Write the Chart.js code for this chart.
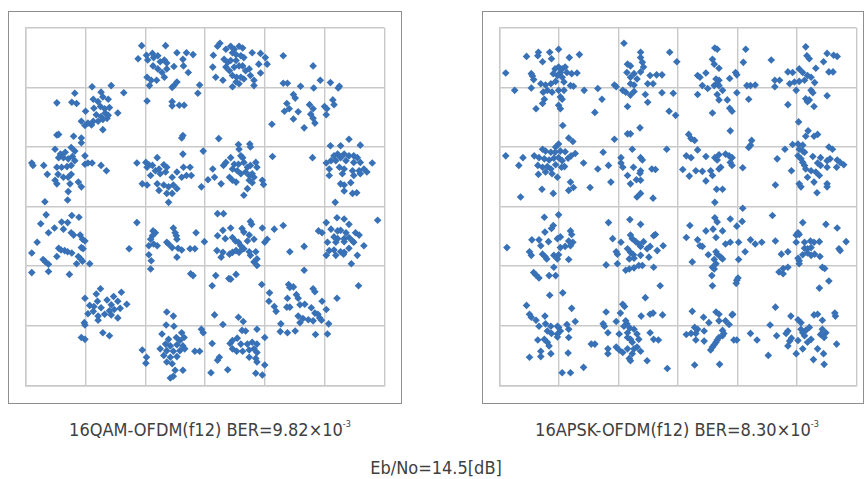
<!DOCTYPE html>
<html>
<head>
<meta charset="utf-8">
<script src="https://cdn.jsdelivr.net/npm/chart.js@4/dist/chart.umd.min.js"></script>
<style>
  html, body { margin: 0; padding: 0; background: #ffffff; }
  body { width: 864px; height: 479px; position: relative; overflow: hidden; }
  .frame { position: absolute; box-sizing: border-box; border: 1px solid #8e8e8e; background: #fff; }
  .plot { position: absolute; }
  .cap { position: absolute; color: #404040; font-family: "DejaVu Sans Condensed", "DejaVu Sans", sans-serif; font-stretch: condensed; font-size: 18px; white-space: nowrap; transform: translateX(-50%); }
  .cap sup { font-size: 9px; vertical-align: 9px; line-height: 0; }
</style>
</head>
<body>
<div class="frame" style="left:8px;top:11px;width:394px;height:393px;"></div>
<div class="frame" style="left:482px;top:11px;width:382px;height:393px;"></div>
<div class="plot" style="left:22px;top:24px;width:366px;height:365px;"><canvas id="left"></canvas></div>
<div class="plot" style="left:496px;top:24px;width:364px;height:365px;"><canvas id="right"></canvas></div>
<div class="cap" id="capL" style="left:210px;top:419px;"></div>
<div class="cap" id="capR" style="left:677px;top:419px;"></div>
<div class="cap" id="capB" style="left:436px;top:457px;"></div>
<script>
// ---- data ----
const axisTicks = [-3, -2, -1, 0, 1, 2, 3];
const captionLeft = ["16QAM-OFDM(f12) BER=9.82×10", "-3"];
const captionRight = ["16APSK-OFDM(f12) BER=8.30×10", "-3"];
const captionBottom = "Eb/No=14.5[dB]";

// left constellation (I, Q)
const leftPoints = [
[-1.06,2.70],[-0.66,2.70],[-1.12,2.48],[-0.98,2.54],[-0.88,2.57],[-0.96,2.46],[-0.86,2.50],[-0.79,2.53],[-0.75,2.43],[-0.68,2.46],[-0.64,2.41],[-0.87,2.36],[-0.79,2.31],[-0.72,2.25],[-0.64,2.31],[-0.47,2.58],[-0.37,2.47],[-0.31,2.58],[-0.20,2.55],[-0.52,2.35],[-0.36,2.36],[-0.28,2.25],[-0.97,2.17],[-0.90,2.12],[-0.81,2.12],[-0.93,2.03],[-0.68,2.17],[-0.52,2.03],[-0.47,2.09],[-0.55,2.00],[-0.09,2.04],[-0.12,1.90],[-0.97,1.77],[-0.55,1.76],[-0.55,1.69],[-0.43,1.70],[-0.35,1.70],[-0.37,1.19],[-0.39,1.15],
[-1.89,2.01],[-1.57,2.03],[-1.36,1.91],[-2.18,1.90],[-1.74,1.92],[-2.48,1.74],[-2.23,1.75],[-2.15,1.73],[-1.87,1.80],[-1.79,1.76],[-1.71,1.84],[-1.62,1.80],[-2.00,1.60],[-1.86,1.65],[-1.75,1.68],[-1.68,1.64],[-1.60,1.66],[-1.46,1.57],[-1.82,1.54],[-1.74,1.51],[-1.67,1.57],[-1.62,1.53],[-2.07,1.43],[-1.96,1.40],[-1.87,1.43],[-1.79,1.43],[-1.71,1.46],[-1.64,1.48],[-1.71,1.29],[-2.01,1.36],[-1.90,1.37],
[-2.48,1.20],[-2.45,1.21],[-2.20,1.18],[-2.07,1.15],[-2.07,1.07],[-2.51,0.96],[-2.42,0.88],[-2.34,0.91],[-2.24,0.99],[-2.18,0.93],[-2.45,0.82],[-2.37,0.82],[-2.29,0.80],[-2.22,0.84],[-2.18,0.77],[-2.01,0.85],[-2.90,0.73],[-2.88,0.69],[-2.70,0.69],[-2.48,0.66],[-2.40,0.66],[-2.31,0.67],[-2.24,0.69],[-2.01,0.71],[-1.96,0.73],[-1.89,0.73],[-1.74,0.69],[-1.65,0.60],[-2.64,0.54],[-2.46,0.54],[-2.37,0.49],[-2.29,0.49],[-2.24,0.54],[-2.51,0.44],[-2.48,0.38],[-2.26,0.38],[-2.12,0.41],[-2.07,0.33],[-2.29,0.25],[-2.30,0.11],[-2.68,0.08],
[-1.14,0.73],[-0.99,0.74],[-0.94,0.70],[-0.97,0.66],[-0.88,0.69],[-0.80,0.82],[-0.83,0.60],[-0.77,0.63],[-0.69,0.70],[-0.64,0.66],[-0.66,0.58],[-0.91,0.52],[-0.75,0.55],[-0.55,0.49],[-0.47,0.58],[-0.36,0.66],[-0.25,0.66],[-0.39,0.49],[-0.31,0.52],[-0.23,0.52],[-1.05,0.38],[-0.97,0.36],[-0.80,0.38],[-0.69,0.36],[-0.61,0.33],[-0.53,0.36],[-0.47,0.30],[-0.77,0.27],[-0.64,0.22],[-0.55,0.22],[-0.37,0.88],[-0.61,0.07],[-0.03,0.93],[-0.06,0.33],
[0.25,2.74],[0.21,2.69],[0.14,2.54],[0.35,2.64],[0.43,2.69],[0.49,2.64],[0.57,2.69],[0.63,2.66],[0.46,2.58],[0.52,2.55],[0.60,2.53],[0.65,2.50],[0.79,2.58],[0.93,2.57],[1.01,2.50],[0.32,2.47],[0.38,2.42],[0.43,2.45],[0.52,2.45],[0.35,2.34],[0.41,2.28],[0.49,2.34],[0.57,2.36],[0.63,2.36],[0.68,2.28],[0.74,2.31],[0.90,2.39],[1.04,2.39],[0.13,2.34],[0.18,2.17],[0.30,2.12],[0.46,2.20],[0.53,2.17],[0.60,2.17],[0.65,2.14],[0.76,2.20],[0.82,2.12],[0.93,2.24],[0.52,2.09],[0.46,2.01],[0.57,2.06],[0.82,2.03],[1.31,2.53],[1.81,2.36],
[1.31,2.07],[1.38,2.07],[1.60,2.02],[1.82,1.99],[1.93,2.12],[2.10,2.08],[2.25,2.02],[2.23,1.99],[1.48,1.88],[1.51,1.82],[1.75,1.71],[1.81,1.64],[1.37,1.73],[1.33,1.60],[1.41,1.64],[1.56,1.59],[1.48,1.47],[1.77,1.55],[1.81,1.48],[2.00,1.68],[2.04,1.64],[2.14,1.79],[2.16,1.71],[2.03,1.54],[1.84,1.40],[1.66,1.32],[1.12,1.38],
[0.23,1.14],[0.56,1.04],[0.75,1.05],[0.76,1.00],[0.57,0.96],[0.60,0.85],[0.63,0.82],[0.43,0.82],[0.35,0.74],[0.31,0.69],[0.49,0.71],[0.56,0.71],[0.65,0.74],[0.71,0.66],[0.76,0.69],[0.85,0.74],[0.87,0.66],[0.13,0.63],[0.46,0.63],[0.54,0.60],[0.60,0.55],[0.68,0.58],[0.74,0.52],[0.79,0.55],[0.82,0.49],[0.74,0.44],[0.79,0.40],[0.05,0.45],[0.16,0.49],[0.27,0.38],[0.41,0.49],[0.46,0.44],[0.52,0.41],[0.96,0.44],[0.98,0.37],[0.71,0.30],[0.65,0.19],[1.13,0.84],
[2.41,1.13],[2.10,1.02],[2.27,1.02],[2.60,1.03],[1.80,0.82],[2.16,0.85],[2.22,0.88],[2.27,0.82],[2.33,0.88],[2.41,0.85],[2.49,0.85],[2.55,0.82],[2.11,0.77],[2.19,0.77],[2.36,0.77],[2.03,0.73],[2.49,0.74],[2.60,0.74],[2.80,0.73],[2.08,0.63],[2.25,0.66],[2.33,0.63],[2.47,0.60],[2.58,0.60],[2.66,0.63],[2.71,0.58],[2.08,0.52],[2.30,0.55],[2.49,0.52],[2.60,0.55],[2.27,0.38],[2.33,0.36],[2.44,0.40],[2.33,0.26],[2.47,0.22],[2.54,0.23],[2.18,0.07],
[-2.66,-0.14],[-2.23,-0.15],[-2.11,-0.18],[-2.75,-0.29],[-2.52,-0.36],[-2.40,-0.26],[-2.30,-0.27],[-2.37,-0.38],[-2.62,-0.44],[-2.24,-0.44],[-2.20,-0.48],[-2.09,-0.48],[-2.05,-0.55],[-2.01,-0.58],[-2.81,-0.60],[-2.45,-0.70],[-2.41,-0.73],[-2.35,-0.74],[-2.30,-0.76],[-2.23,-0.78],[-2.07,-0.69],[-2.04,-0.71],[-2.90,-0.78],[-2.48,-0.84],[-2.12,-0.84],[-2.08,-0.88],[-2.05,-0.92],[-2.15,-0.96],[-2.71,-0.89],[-2.67,-0.93],[-2.62,-0.97],[-1.93,-0.96],[-2.90,-1.11],[-2.62,-1.09],[-2.27,-1.14],
[-1.14,-0.27],[-0.87,-0.41],[-0.83,-0.44],[-0.88,-0.49],[-0.91,-0.55],[-0.94,-0.66],[-0.86,-0.63],[-0.80,-0.66],[-0.64,-0.60],[-0.61,-0.63],[-0.53,-0.36],[-0.50,-0.44],[-0.48,-0.49],[-0.47,-0.55],[-0.55,-0.69],[-0.45,-0.70],[-0.39,-0.73],[-0.47,-0.85],[-0.25,-0.71],[-0.17,-0.71],[-0.15,-0.44],[-0.01,-0.59],[-0.94,-0.81],[-0.90,-0.91],[-0.91,-1.05],[-1.27,-0.71],[-0.24,-1.13],[-0.20,-1.16],
[-1.75,-1.38],[-1.40,-1.44],[-1.82,-1.47],[-2.01,-1.54],[-1.53,-1.51],[-1.80,-1.59],[-1.64,-1.57],[-1.46,-1.59],[-1.31,-1.64],[-1.93,-1.66],[-1.86,-1.68],[-1.74,-1.70],[-1.57,-1.65],[-1.52,-1.73],[-1.60,-1.75],[-1.42,-1.71],[-1.87,-1.76],[-1.96,-1.80],[-1.79,-1.84],[-1.68,-1.81],[-1.57,-1.82],[-1.46,-1.87],[-1.79,-1.91],[-2.02,-1.95],[-2.01,-1.99],[-1.71,-2.12],[-1.60,-2.17],[-2.07,-2.20],[-2.01,-2.23],
[-0.64,-1.77],[-0.53,-1.84],[-0.65,-1.99],[-0.52,-2.01],[-0.39,-2.12],[-0.72,-2.14],[-0.61,-2.23],[-0.48,-2.20],[-0.42,-2.25],[-0.35,-2.20],[-0.66,-2.31],[-0.58,-2.34],[-0.47,-2.32],[-0.37,-2.34],[-0.06,-2.06],[-0.03,-2.12],[-0.75,-2.39],[-0.64,-2.42],[-0.53,-2.43],[-0.42,-2.42],[-0.34,-2.39],[-1.05,-2.41],[-0.98,-2.53],[-0.69,-2.50],[-0.58,-2.53],[-0.47,-2.52],[-0.64,-2.61],[-0.55,-2.64],[-0.99,-2.63],[-0.17,-2.43],[-0.09,-2.43],[-0.50,-2.75],[-0.37,-2.75],[-0.58,-2.88],[-0.53,-2.85],
[0.21,-0.12],[0.31,-0.12],[0.76,-0.25],[0.78,-0.30],[0.30,-0.40],[0.43,-0.36],[0.62,-0.37],[0.65,-0.43],[0.74,-0.48],[0.96,-0.36],[1.16,-0.38],[1.31,-0.32],[0.21,-0.49],[0.34,-0.54],[0.46,-0.52],[0.51,-0.58],[0.56,-0.60],[0.60,-0.66],[0.65,-0.71],[0.71,-0.58],[0.82,-0.55],[1.04,-0.55],[1.00,-0.60],[0.20,-0.74],[0.30,-0.77],[0.41,-0.80],[0.46,-0.77],[0.52,-0.74],[0.57,-0.77],[0.63,-0.71],[0.74,-0.76],[0.76,-0.82],[0.85,-0.76],[0.87,-0.88],[0.82,-0.93],[0.87,-0.99],[0.27,-0.85],[1.42,-0.76],[1.66,-0.67],[0.52,-1.14],[0.43,-1.22],[0.40,-1.21],[0.18,-1.16],[0.12,-1.33],[0.95,-1.31],
[1.66,-1.07],[1.40,-1.31],[1.42,-1.36],[1.48,-1.35],[1.08,-1.45],[1.53,-1.48],[1.81,-1.38],[1.84,-1.43],[1.38,-1.54],[1.56,-1.54],[1.16,-1.68],[1.37,-1.69],[1.42,-1.69],[1.59,-1.65],[1.67,-1.64],[1.96,-1.59],[2.03,-1.73],[1.07,-1.59],[1.19,-1.76],[1.78,-1.70],[1.84,-1.79],[1.89,-1.81],[1.92,-1.87],[1.56,-1.84],[1.64,-1.88],[1.73,-1.90],[1.81,-1.92],[1.95,-1.91],[2.07,-1.97],[1.27,-1.97],[1.59,-1.95],[1.26,-2.10],[1.38,-2.12],[1.51,-2.09],[1.85,-2.15],[2.05,-2.14],[2.21,-1.54],[2.57,-1.33],
[2.21,-0.19],[2.33,-0.21],[2.03,-0.27],[2.41,-0.30],[1.90,-0.41],[1.96,-0.44],[2.11,-0.38],[2.22,-0.41],[2.27,-0.40],[2.36,-0.44],[2.52,-0.44],[2.58,-0.48],[2.16,-0.51],[2.22,-0.54],[2.33,-0.54],[2.41,-0.52],[2.47,-0.58],[2.05,-0.60],[2.19,-0.60],[2.33,-0.59],[2.49,-0.60],[2.66,-0.66],[2.08,-0.74],[2.16,-0.73],[2.27,-0.76],[2.33,-0.77],[2.41,-0.70],[2.03,-0.82],[2.19,-0.82],[2.32,-0.80],[2.55,-0.82],[2.45,-0.96],[2.89,-0.23],
[0.16,-1.82],[0.56,-1.86],[0.64,-1.93],[0.30,-1.98],[0.62,-2.08],[0.68,-2.09],[0.87,-2.06],[1.00,-2.20],[0.46,-2.25],[0.54,-2.21],[0.12,-2.30],[0.42,-2.30],[0.60,-2.31],[0.71,-2.31],[0.79,-2.28],[0.87,-2.31],[0.46,-2.39],[0.53,-2.43],[0.63,-2.43],[0.74,-2.41],[0.82,-2.39],[0.87,-2.45],[0.24,-2.53],[0.21,-2.58],[0.74,-2.53],[0.85,-2.55],[0.87,-2.61],[1.00,-2.66],[0.10,-2.79],[0.38,-2.74],[0.85,-2.80],[0.96,-2.83]
];

// right constellation (I, Q)
const rightPoints = [
[-2.01,2.64],[-2.35,2.59],[-2.16,2.59],[-2.55,2.52],[-2.36,2.53],[-2.13,2.48],[-1.83,2.50],[-1.66,2.55],[-2.28,2.43],[-2.90,2.24],[-2.47,2.23],[-2.45,2.19],[-2.07,2.31],[-2.01,2.34],[-1.95,2.31],[-1.90,2.34],[-1.98,2.25],[-1.87,2.25],[-1.79,2.23],[-1.70,2.24],[-2.10,2.23],[-2.03,2.20],[-1.95,2.17],[-2.43,2.13],[-2.31,2.06],[-2.23,2.04],[-2.14,2.06],[-2.06,2.10],[-1.92,2.09],[-1.81,2.03],[-1.76,2.02],[-2.47,1.99],[-2.75,1.95],[-2.27,1.92],[-2.20,1.95],[-2.12,1.92],[-2.01,1.95],[-1.92,1.95],[-1.98,1.84],[-1.95,1.80],[-2.25,1.80],[-2.28,1.73],[-2.39,1.64],[-2.01,1.70],[-1.98,1.64],[-1.58,1.95],
[-0.91,2.74],[-0.63,2.59],[-0.14,2.59],[-0.63,2.50],[-0.85,2.39],[-0.60,2.42],[-0.80,2.36],[-0.02,2.43],[-0.86,2.25],[-0.74,2.23],[-0.63,2.26],[-0.58,2.34],[-0.47,2.20],[-0.36,2.21],[-0.27,2.21],[-0.80,2.17],[-0.69,2.14],[-0.80,2.06],[-0.74,2.04],[-0.51,2.06],[-0.42,2.06],[-1.07,2.04],[-1.04,2.01],[-0.93,1.95],[-0.88,1.92],[-0.74,1.93],[-0.80,1.87],[-0.55,1.88],[-0.51,1.75],[-1.35,1.98],[-1.28,1.80],[-0.85,1.68],[-1.40,1.58],[-0.27,1.91],[-0.08,1.90],[-0.15,1.60],[-0.04,1.53],
[-1.94,1.36],[-1.84,1.15],[-1.77,1.09],[-2.01,1.05],[-2.06,1.00],[-2.28,0.96],[-2.23,0.93],[-2.14,0.91],[-2.07,0.91],[-1.98,0.93],[-1.90,0.92],[-1.73,0.89],[-2.90,0.85],[-2.61,0.82],[-2.42,0.85],[-2.34,0.82],[-2.25,0.80],[-2.17,0.78],[-2.09,0.81],[-2.01,0.82],[-1.95,0.77],[-1.85,0.81],[-1.80,0.85],[-2.68,0.69],[-2.36,0.69],[-2.28,0.66],[-2.20,0.67],[-2.14,0.63],[-2.06,0.70],[-1.96,0.66],[-1.91,0.67],[-1.59,0.73],[-2.35,0.54],[-2.23,0.58],[-2.12,0.55],[-2.03,0.49],[-1.81,0.41],[-1.84,0.27],[-1.76,0.32],[-2.29,0.29],[-2.10,0.22],[-2.65,0.16],[-1.48,0.32],
[-0.64,1.32],[-0.85,1.22],[-0.80,1.22],[-1.07,1.13],[-0.77,0.96],[-0.19,0.96],[-1.26,0.91],[-0.96,0.82],[-0.63,0.82],[-0.60,0.78],[-1.17,0.69],[-0.96,0.73],[-0.93,0.66],[-1.35,0.63],[-0.75,0.66],[-0.63,0.60],[-0.44,0.63],[-0.38,0.62],[-0.64,0.56],[-0.85,0.52],[-0.70,0.45],[-0.63,0.44],[-1.13,0.41],[-0.80,0.38],[-0.63,0.22],[-0.69,0.16],[-0.42,0.14],
[0.62,2.66],[0.66,2.64],[1.14,2.64],[0.58,2.47],[0.61,2.39],[1.10,2.42],[0.69,2.32],[0.33,2.20],[0.37,2.17],[0.47,2.24],[0.97,2.25],[0.99,2.21],[0.64,2.14],[0.69,2.12],[0.87,2.15],[0.66,2.06],[0.61,2.03],[0.41,2.03],[0.50,1.98],[0.69,2.03],[0.75,1.95],[1.16,2.03],[1.22,2.03],[1.30,2.04],[0.33,1.88],[0.66,1.88],[0.69,1.79],[0.83,1.79],[0.99,1.91],[1.19,1.80],[0.87,1.65],[0.91,1.60],[0.58,1.57],
[2.15,2.68],[1.57,2.46],[2.17,2.53],[2.21,2.48],[2.51,2.57],[2.62,2.54],[2.68,2.52],[2.45,2.43],[1.85,2.26],[1.93,2.25],[2.04,2.31],[2.10,2.25],[2.18,2.20],[2.24,2.17],[2.32,2.32],[2.54,2.26],[2.61,2.26],[1.63,2.12],[1.71,2.12],[1.88,2.06],[1.96,2.09],[2.04,2.10],[2.13,2.12],[2.30,2.08],[1.63,2.01],[1.99,1.95],[2.24,1.95],[2.27,1.91],[2.15,1.81],[2.21,1.79],[2.18,1.76],[2.51,1.86],[2.29,1.68],[1.85,1.71],
[0.18,1.21],[0.22,1.14],[0.28,1.11],[0.88,1.27],[1.24,1.11],[1.22,1.03],[1.19,0.99],[0.33,0.95],[0.14,0.85],[0.22,0.82],[0.47,0.84],[0.62,0.82],[0.69,0.87],[0.80,0.88],[0.86,0.85],[0.91,0.82],[0.66,0.78],[0.88,0.74],[0.91,0.69],[0.08,0.62],[0.30,0.60],[0.41,0.59],[0.55,0.60],[0.69,0.63],[0.72,0.66],[0.58,0.52],[0.19,0.51],[0.47,0.43],[1.09,0.65],[0.65,0.29],[0.75,0.29],[0.62,0.07],[1.09,-0.03],
[2.03,1.42],[2.19,1.27],[2.15,1.18],[2.29,1.18],[2.35,1.21],[1.93,1.04],[2.02,1.05],[2.10,1.03],[1.80,0.96],[2.04,0.96],[2.10,0.93],[2.13,0.91],[2.54,1.00],[2.60,0.96],[1.67,0.80],[2.02,0.85],[2.07,0.80],[2.27,0.84],[2.40,0.82],[2.51,0.77],[2.56,0.80],[2.68,0.78],[2.73,0.74],[2.79,0.70],[2.10,0.74],[2.13,0.69],[2.15,0.63],[2.35,0.73],[2.40,0.69],[2.51,0.66],[2.67,0.66],[1.91,0.60],[2.24,0.60],[2.32,0.58],[2.38,0.52],[2.18,0.49],[2.29,0.41],[2.51,0.38],[2.51,0.33],[2.04,0.38],[2.07,0.33],[1.64,0.36],[2.34,0.23],
[-2.01,-0.14],[-2.25,-0.18],[-2.10,-0.32],[-2.13,-0.37],[-2.24,-0.43],[-1.81,-0.41],[-1.79,-0.47],[-2.46,-0.56],[-2.34,-0.56],[-2.18,-0.59],[-2.03,-0.54],[-1.98,-0.51],[-1.84,-0.58],[-1.77,-0.60],[-2.31,-0.66],[-1.98,-0.69],[-1.90,-0.67],[-1.81,-0.66],[-2.88,-0.69],[-2.50,-0.76],[-2.47,-0.82],[-2.28,-0.80],[-2.24,-0.84],[-2.21,-0.88],[-2.09,-0.82],[-2.01,-0.81],[-2.03,-0.88],[-1.84,-0.89],[-2.09,-1.02],[-2.43,-1.11],[-2.39,-1.15],[-2.34,-1.20],[-2.17,-1.16],[-2.06,-1.16],
[-0.81,-0.22],[-0.63,-0.30],[-1.17,-0.27],[-1.10,-0.54],[-0.80,-0.48],[-0.77,-0.54],[-0.38,-0.47],[-0.41,-0.49],[-0.96,-0.60],[-0.71,-0.59],[-0.66,-0.63],[-0.58,-0.59],[-0.63,-0.67],[-0.52,-0.71],[-0.47,-0.67],[-0.25,-0.66],[-0.35,-0.74],[-0.85,-0.71],[-1.04,-0.76],[-1.02,-0.80],[-0.80,-0.77],[-0.75,-0.81],[-0.82,-0.88],[-0.74,-0.87],[-0.63,-0.82],[-0.49,-0.85],[-1.21,-0.98],[-1.02,-0.96],[-0.88,-1.07],[-0.82,-1.05],[-0.74,-1.03],[-0.66,-0.99],[-0.60,-0.99],[-0.41,-1.02],
[0.62,-0.19],[0.66,-0.26],[0.88,-0.21],[1.08,-0.25],[0.99,-0.33],[0.20,-0.32],[0.47,-0.41],[0.59,-0.38],[0.75,-0.41],[0.14,-0.52],[0.33,-0.56],[0.64,-0.52],[0.37,-0.66],[0.41,-0.67],[0.80,-0.63],[0.88,-0.60],[1.02,-0.60],[1.22,-0.56],[1.30,-0.63],[1.41,-0.60],[0.64,-0.76],[0.66,-0.80],[0.51,-0.81],[0.72,-0.85],[0.75,-0.88],[0.61,-0.89],[1.13,-0.76],[0.24,-0.93],[1.02,-0.89],[0.64,-0.96],[0.58,-1.02],[0.61,-1.05],[0.57,-1.16],[0.58,-1.33],[0.99,-1.24],[1.01,-1.20],[0.98,-1.29],
[1.59,-0.15],[2.10,-0.27],[2.49,-0.30],[2.68,-0.36],[2.02,-0.44],[1.99,-0.48],[2.04,-0.47],[1.64,-0.58],[1.99,-0.60],[2.13,-0.60],[2.23,-0.58],[2.29,-0.60],[2.38,-0.59],[2.83,-0.59],[2.13,-0.70],[2.18,-0.71],[2.24,-0.69],[1.85,-0.76],[1.74,-0.80],[2.18,-0.78],[2.24,-0.82],[2.30,-0.80],[2.39,-0.84],[2.71,-0.71],[2.73,-0.74],[2.02,-0.87],[2.04,-0.91],[2.10,-0.81],[2.04,-0.96],[1.85,-1.02],[1.77,-1.04],[1.70,-1.10],[1.77,-1.13],[2.43,-1.02],[2.47,-1.04],[2.54,-1.25],[2.38,-1.37],
[-2.16,-1.49],[-1.94,-1.45],[-2.55,-1.66],[-1.79,-1.71],[-2.50,-1.81],[-2.47,-1.86],[-2.24,-1.84],[-2.39,-1.91],[-1.73,-1.93],[-2.23,-1.97],[-2.14,-2.01],[-2.03,-2.01],[-2.01,-2.03],[-1.98,-2.09],[-2.03,-2.14],[-1.87,-1.98],[-1.84,-2.06],[-2.34,-2.01],[-2.20,-2.09],[-2.13,-2.13],[-2.03,-2.19],[-1.84,-2.20],[-2.36,-2.24],[-2.25,-2.23],[-2.20,-2.28],[-2.17,-2.34],[-2.31,-2.43],[-2.14,-2.47],[-1.85,-2.46],[-2.50,-2.53],[-2.31,-2.52],[-1.59,-2.70],[-1.95,-2.79],[-1.81,-2.79],
[-0.93,-1.64],[-0.90,-1.68],[-1.21,-1.77],[-0.97,-1.79],[-0.62,-1.84],[-0.47,-1.81],[-0.42,-1.79],[-0.55,-1.53],[-0.30,-1.33],[-0.26,-1.82],[-1.04,-1.93],[-1.26,-1.97],[-1.24,-2.01],[-0.88,-1.92],[-0.86,-1.97],[-0.91,-2.01],[-0.81,-2.04],[-0.74,-2.06],[-0.85,-2.12],[-1.18,-2.12],[-0.99,-2.14],[-0.69,-2.14],[-0.47,-2.12],[-0.85,-2.20],[-0.80,-2.23],[-0.77,-2.28],[-0.66,-2.23],[-0.41,-2.23],[-0.33,-2.24],[-1.46,-2.31],[-1.40,-2.31],[-1.18,-2.39],[-1.04,-2.36],[-0.99,-2.41],[-0.93,-2.45],[-0.85,-2.39],[-0.74,-2.39],[-0.69,-2.36],[-0.63,-2.43],[-0.77,-2.47],[-0.82,-2.55],[-0.80,-2.59],[-0.52,-2.59],[-1.18,-2.47],[-0.18,-2.72],
[0.24,-1.76],[0.64,-1.77],[0.69,-1.81],[0.92,-1.81],[0.43,-1.86],[0.52,-1.95],[0.69,-1.92],[0.80,-1.92],[0.86,-1.98],[0.91,-1.82],[0.28,-2.03],[0.33,-2.06],[0.44,-2.09],[0.22,-2.13],[0.30,-2.13],[0.75,-2.08],[0.77,-2.13],[0.14,-2.15],[0.75,-2.17],[0.69,-2.20],[0.66,-2.24],[0.64,-2.28],[0.61,-2.32],[0.58,-2.36],[0.55,-2.41],[0.30,-2.24],[0.44,-2.26],[0.94,-2.24],[0.99,-2.24],[1.22,-2.13],[1.33,-2.24],[0.28,-2.66],[0.70,-2.65],
[1.64,-1.69],[1.90,-1.84],[2.02,-1.90],[2.07,-1.95],[2.29,-1.82],[2.35,-1.81],[2.43,-1.91],[2.64,-1.79],[2.65,-1.84],[1.55,-1.99],[1.85,-2.09],[1.82,-2.13],[1.66,-2.17],[2.07,-2.06],[2.10,-2.12],[2.15,-2.08],[2.21,-2.03],[2.43,-2.06],[2.49,-2.12],[2.40,-2.15],[2.46,-2.20],[2.13,-2.17],[2.24,-2.23],[2.18,-2.28],[1.91,-2.21],[1.88,-2.26],[1.85,-2.34],[2.02,-2.25],[2.10,-2.39],[2.35,-2.39],[2.45,-2.47],[2.67,-2.31],[1.99,-2.47],[2.28,-2.57],[2.46,-2.65],[1.52,-2.50]
];

// ---- styling ----
const pointColor = '#3871b6';
const gridColor = '#c9c9c9';

function toXY(arr) { return arr.map(p => ({ x: p[0], y: p[1] })); }

function makeChart(id, pts) {
  const axis = {
    type: 'linear',
    min: axisTicks[0],
    max: axisTicks[axisTicks.length - 1],
    afterBuildTicks: (scale) => { scale.ticks = axisTicks.map(v => ({ value: v })); },
    ticks: { display: false },
    grid: { color: gridColor, lineWidth: 1.4, drawTicks: false },
    border: { display: true, color: gridColor, width: 1.4 }
  };
  return new Chart(document.getElementById(id), {
    type: 'scatter',
    data: {
      datasets: [{
        data: toXY(pts),
        pointStyle: 'rectRot',
        pointRadius: 3.8,
        pointHoverRadius: 3.8,
        pointBackgroundColor: pointColor,
        pointBorderColor: pointColor,
        pointBorderWidth: 0,
        showLine: false
      }]
    },
    options: {
      responsive: true,
      maintainAspectRatio: false,
      animation: false,
      layout: { padding: 1 },
      plugins: { legend: { display: false }, tooltip: { enabled: false } },
      scales: { x: axis, y: Object.assign({}, axis) }
    }
  });
}

makeChart('left', leftPoints);
makeChart('right', rightPoints);

function setCap(id, parts) {
  const el = document.getElementById(id);
  el.textContent = parts[0];
  if (parts[1]) { const s = document.createElement('sup'); s.textContent = parts[1]; el.appendChild(s); }
}
setCap('capL', captionLeft);
setCap('capR', captionRight);
document.getElementById('capB').textContent = captionBottom;
</script>
</body>
</html>
